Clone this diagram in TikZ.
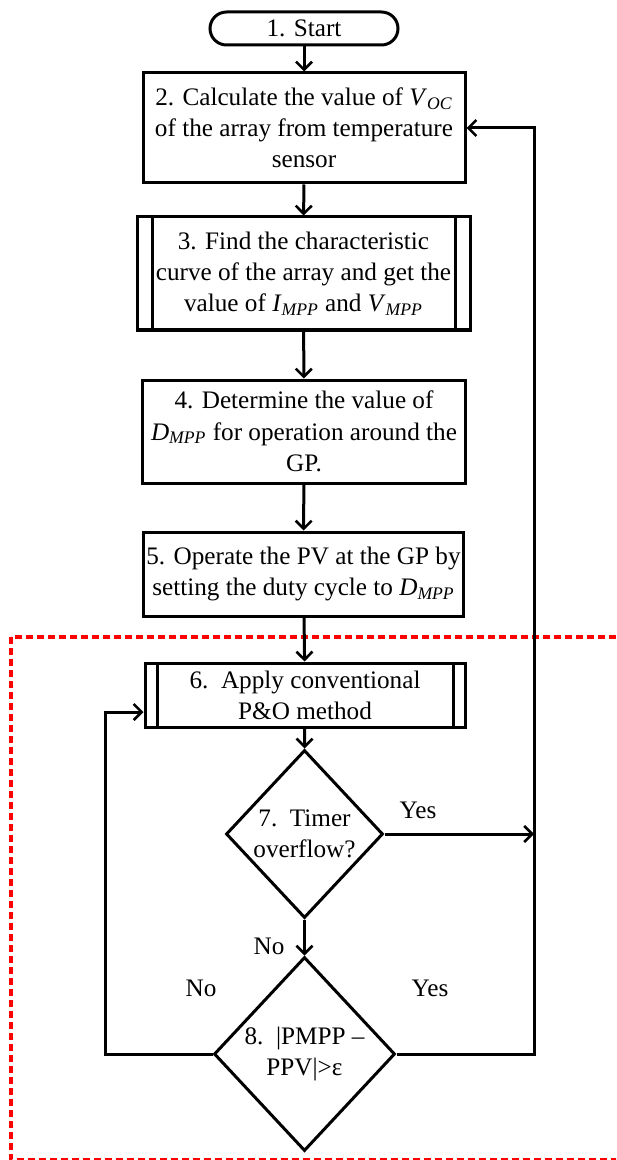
\documentclass[tikz,border=0pt]{standalone}
\usepackage{fontspec}
\setmainfont{Liberation Serif}
\usetikzlibrary{shapes.geometric,arrows.meta}
\newcommand{\sbs}[2]{\textit{#1}\textsubscript{\textit{#2}}}
\begin{document}
\begin{tikzpicture}[x=0.5pt,y=-0.5pt,
  every node/.style={font=\fontsize{12.6}{15.6}\selectfont, inner sep=0pt, align=center},
  proc/.style={draw, line width=1.5pt, rectangle},
  subproc/.style={proc, path picture={
      \draw[line width=1.5pt] ([xshift=#1]path picture bounding box.north west) -- ([xshift=#1]path picture bounding box.south west);
      \draw[line width=1.5pt] ([xshift=-#1]path picture bounding box.north east) -- ([xshift=-#1]path picture bounding box.south east);}},
  term/.style={draw, line width=1.5pt, rounded corners=8.25pt},
  decision/.style={draw, line width=1.5pt, diamond},
  flow/.style={line width=1.5pt, -{Straight Barb[length=4pt,width=8pt,line width=1.3pt]}},
  lbl/.style={font=\fontsize{12.6}{15.6}\selectfont},
  region/.style={draw=red, line width=1.6pt, dash pattern=on 3.5pt off 2pt}
]
\useasboundingbox (0,0) rectangle (616,1160);
\clip (0,0) rectangle (616,1160);

\draw[region] (11,637) rectangle (660,1159.5);

\node[term, minimum width=94pt, minimum height=16.5pt] (start) at (304,28.5) {1. Start};
\node[proc, minimum width=161pt, minimum height=55pt] (b2) at (304,128)
  {2. Calculate the value of \sbs{V}{OC}\\ of the array from temperature\\ sensor};
\node[subproc=7.5pt, minimum width=166.5pt, minimum height=56.5pt] (b3) at (303.5,273.5)
  {3. Find the characteristic\\ curve of the array and get the\\ value of \sbs{I}{MPP} and \sbs{V}{MPP}};
\node[proc, minimum width=161.5pt, minimum height=51.5pt] (b4) at (304,431.5)
  {4. Determine the value of\\ \sbs{D}{MPP} for operation around the\\ GP.};
\node[proc, minimum width=160pt, minimum height=42pt] (b5) at (303.5,574)
  {5. Operate the PV at the GP by\\ setting the duty cycle to \sbs{D}{MPP}};
\node[subproc=6pt, minimum width=160pt, minimum height=32pt] (b6) at (305,695)
  {6.\ \ Apply conventional\\ P\&O method};
\node[decision, minimum width=78.5pt, minimum height=84pt,
  label={[lbl,align=center]center:7.\ \ Timer\\ overflow?}] (d7) at (304.5,834) {};
\node[decision, minimum width=90.5pt, minimum height=97pt,
  label={[lbl,align=center]center:8.\ \ |PMPP –\\ PPV|>ε}] (d8) at (304.5,1054) {};

\coordinate (r7) at (534,834);
\coordinate (rb) at (534,1054);
\coordinate (rt) at (534,128);
\coordinate (lb) at (105,1054);
\coordinate (lt) at (105,712);

\draw[flow] (start) -- (b2);
\draw[flow] (b2) -- (b3);
\draw[flow] (b3) -- (b4);
\draw[flow] (b4) -- (b5);
\draw[flow] (b5) -- (b6);
\draw[flow] (b6) -- (d7.north);
\draw[flow] (d7.south) -- (d8.north);
\draw[flow] (d7.east) -- (r7);
\draw[flow] (d8.east) -- (rb) -- (rt) -- (b2.east);
\draw[flow] (d8.west) -- (lb) -- (lt) -- (lt -| b6.west);

\node[lbl] (yes7) at (418,810) {Yes};
\node[lbl] (no7) at (269,946) {No};
\node[lbl] (no8) at (201,988) {No};
\node[lbl] (yes8) at (430,988) {Yes};
\end{tikzpicture}
\end{document}
